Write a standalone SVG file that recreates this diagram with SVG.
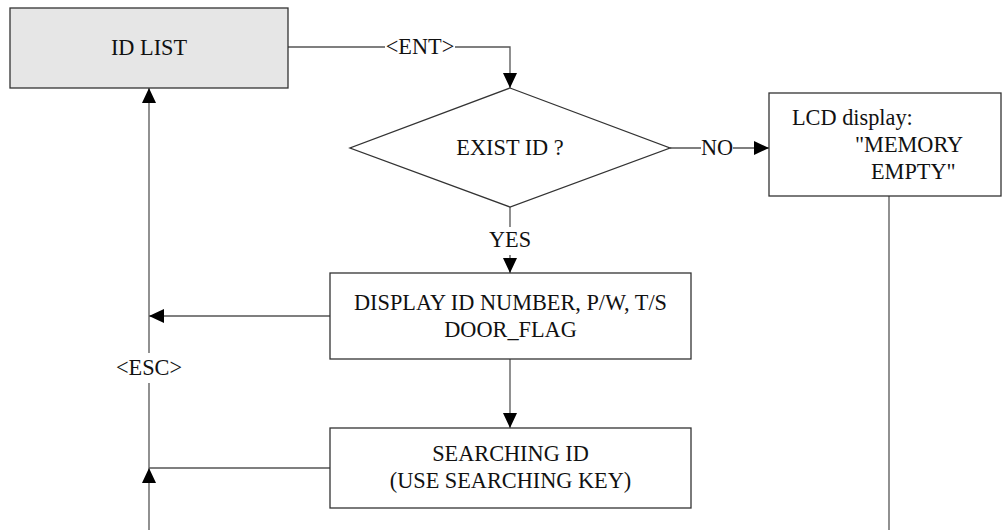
<svg xmlns="http://www.w3.org/2000/svg" width="1003" height="530" viewBox="0 0 1003 530">
<style>
text{font-family:'Liberation Serif','Times New Roman',Times,serif;font-size:22.3px;fill:#111}
.box{fill:#fff;stroke:#333;stroke-width:1.3}
.ln{fill:none;stroke:#555;stroke-width:1.3}
.c{text-anchor:middle}
</style>
<defs>
<marker id="ah" markerUnits="userSpaceOnUse" markerWidth="15" markerHeight="14" refX="15" refY="7" orient="auto">
<path d="M0,0 L15,7 L0,14 z" fill="#000"/>
</marker>
</defs>
<rect width="1003" height="530" fill="#fff"/>
<g id="connectors">
<path class="ln" d="M288,47 H385 M455,47 H510 V88" marker-end="url(#ah)"/>
<path class="ln" d="M670,148 H701 M733,148 H769" marker-end="url(#ah)"/>
<path class="ln" d="M510,207 V227 M510,255 V273" marker-end="url(#ah)"/>
<path class="ln" d="M330,316 H149" marker-end="url(#ah)"/>
<path class="ln" d="M510,359 V428" marker-end="url(#ah)"/>
<path class="ln" d="M330,468 H149"/>
<path class="ln" d="M149,530 V468" marker-end="url(#ah)"/>
<path class="ln" d="M149,468 V383"/>
<path class="ln" d="M149,353 V88" marker-end="url(#ah)"/>
<path class="ln" d="M889,196 V530"/>
<text class="c" x="420" y="54">&lt;ENT&gt;</text>
<text class="c" x="717" y="155">NO</text>
<text class="c" x="510" y="247">YES</text>
<text class="c" x="149" y="375">&lt;ESC&gt;</text>
</g>
<g id="idlist">
<rect x="10" y="8" width="278" height="80" fill="#e6e6e6" stroke="#333" stroke-width="1.3"/>
<text class="c" x="149" y="55">ID LIST</text>
</g>
<g id="exist">
<polygon class="box" points="510,88 670,148 510,207 350,148"/>
<text class="c" x="510" y="155">EXIST ID ?</text>
</g>
<g id="lcd">
<rect class="box" x="769" y="93" width="232" height="103"/>
<text x="792" y="125">LCD display:</text>
<text x="855" y="152">"MEMORY</text>
<text x="871" y="179">EMPTY"</text>
</g>
<g id="display">
<rect class="box" x="330" y="273" width="361" height="86"/>
<text class="c" x="510.5" y="310">DISPLAY ID NUMBER, P/W, T/S</text>
<text class="c" x="510.5" y="337">DOOR_FLAG</text>
</g>
<g id="searching">
<rect class="box" x="330" y="428" width="361" height="80"/>
<text class="c" x="510.5" y="461">SEARCHING ID</text>
<text class="c" x="510.5" y="488">(USE SEARCHING KEY)</text>
</g>
</svg>
